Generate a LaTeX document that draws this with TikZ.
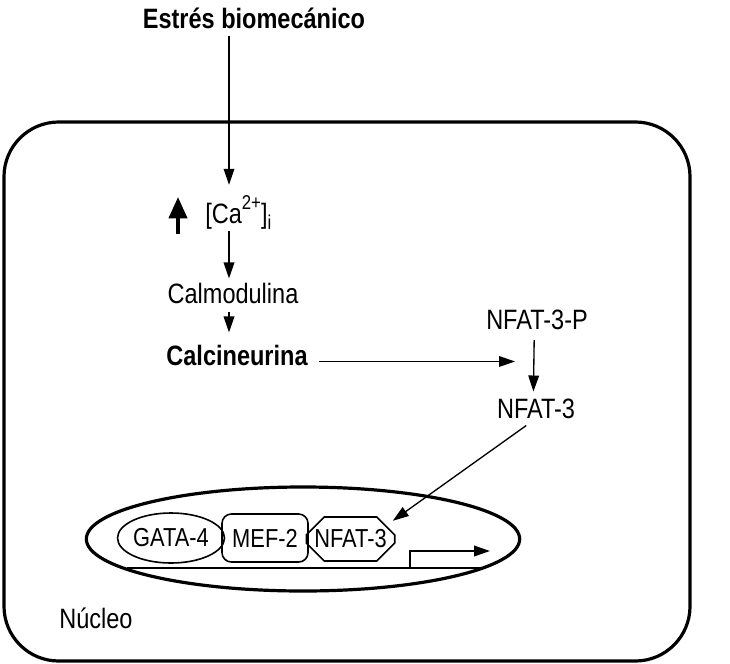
\documentclass[tikz,border=0pt]{standalone}
\usepackage{fontspec}
\setmainfont{Liberation Sans}[FakeStretch=0.84]
\usetikzlibrary{arrows.meta,shapes.geometric,shapes.misc}
\newcommand{\supind}[1]{\raisebox{0.9ex}{\fontsize{15}{15}\selectfont #1}}
\newcommand{\subind}[1]{\raisebox{-0.45ex}{\fontsize{15}{15}\selectfont #1}}
\tikzset{
	txt/.style={inner sep=0pt, font=\fontsize{21}{25}\selectfont},
	btxt/.style={inner sep=0pt, font=\fontsize{21}{25}\selectfont\bfseries},
	arr/.style={line width=1pt, -{Triangle[length=12pt,width=8pt]}},
	gene/.style={draw, line width=1.2pt, inner sep=0pt, font=\fontsize{19.5}{23}\selectfont},
}

\begin{document}
\begin{tikzpicture}[x=0.75pt,y=-0.75pt]
		%%%%% START %%%%%
		\useasboundingbox (0,0) rectangle (730,663);
		
		\draw[line width=2.4pt, rounded corners=41pt] (4,122) rectangle (690,661);
		\node[draw, ellipse, line width=2.4pt, minimum width=325pt, minimum height=78pt] (nucleo) at (303,539) {};
		
		\node[btxt, anchor=base] (estres) at (254,29) {Estrés biomecánico};
		\coordinate (eje) at (229,0);
		\node[txt, anchor=base west] (ca) at (205,223) {[Ca\supind{2+}]\subind{i}};
		\node[txt, anchor=base] (calmod) at (233,303) {Calmodulina};
		\node[btxt, anchor=base] (calcin) at (237,365) {Calcineurina};
		\node[txt, anchor=base] (nfatp) at (537,329) {NFAT-3-P};
		\node[txt, anchor=base] (nfat) at (536,418) {NFAT-3};
		\node[txt, anchor=base west] (nucleolbl) at (59,628) {Núcleo};
		
		\coordinate (caup0) at (178,234);
		\coordinate (caup1) at (178,197);
		\draw[line width=3pt, -{Triangle[length=16pt,width=13.5pt]}] (caup0) -- (caup1);
		
		\node[gene, ellipse, minimum width=72.75pt, minimum height=37.5pt] (gata) at (171,538) {GATA-4};
		\node[gene, rounded corners=7pt, minimum width=64.5pt, minimum height=36pt] (mef) at (265,538) {MEF-2};
		\node[gene, chamfered rectangle, chamfered rectangle xsep=6pt, chamfered rectangle ysep=7.5pt, minimum width=63.75pt, minimum height=33pt] (nfatbox) at (350.5,539) {NFAT-3};
		
		\draw[arr, shorten <=4.5pt, shorten >=8pt] (estres.south -| eje) -- (ca.north -| eje);
		\draw[arr, shorten <=1pt, shorten >=3pt] (ca.south -| eje) -- (calmod.north -| eje);
		\draw[arr, shorten <=6pt, shorten >=9pt] (calmod.south -| eje) -- (calcin.north -| eje);
		\draw[arr, shorten <=8pt, shorten >=16.5pt] (calcin.mid east) -- (calcin.mid east -| nfatp.south);
		\draw[arr, shorten <=8pt, shorten >=5pt] ([xshift=-2pt]nfatp.south) -- ([xshift=-2pt]nfat.north);
		\draw[arr, shorten <=9pt, shorten >=6pt] (nfat.south) -- (nfatbox.north east);
		
		\coordinate (dna0) at (127,568);
		\coordinate (dna1) at (485,568);
		\coordinate (tss) at (410,568);
		\draw[line width=1.2pt] (dna0) -- (dna1);
		\draw[line width=1.2pt, -{Triangle[length=12pt,width=8pt]}] (tss) -- ++(0,-17) -- ++(80,0);
		%%%%% END %%%%%
\end{tikzpicture}
\end{document}
